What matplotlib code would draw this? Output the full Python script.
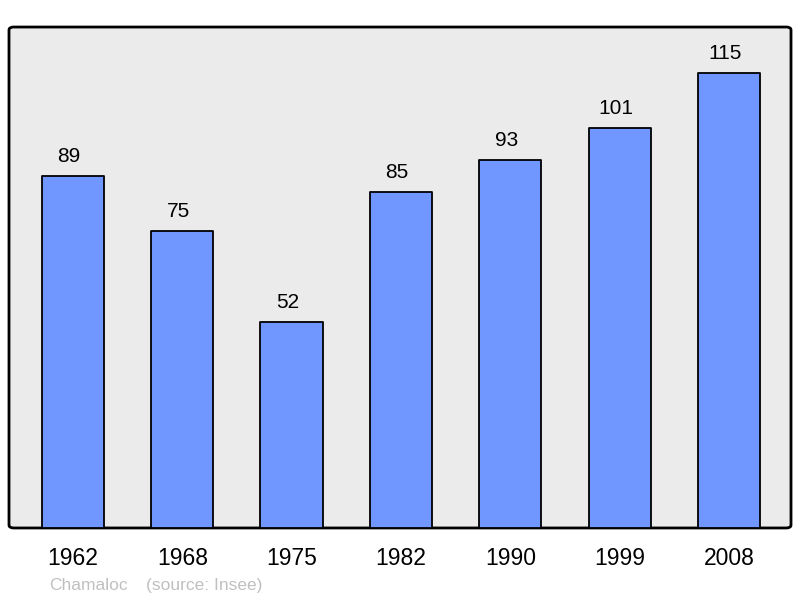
import matplotlib.pyplot as plt
from matplotlib.patches import FancyBboxPatch

years = ["1962", "1968", "1975", "1982", "1990", "1999", "2008"]
population = [89, 75, 52, 85, 93, 101, 115]
commune = "Chamaloc"
source = "(source: Insee)"

plt.rcParams["font.family"] = ["Liberation Sans", "DejaVu Sans"]

fig = plt.figure(figsize=(8, 5.98), dpi=100)
ax = fig.add_axes([0.01125, 0.1171, 0.9775, 0.8377])
ax.set_facecolor("none")
ax.set_xlim(-0.585, 6.567)
ax.set_ylim(0, 126.6)

# rounded grey frame
frame = FancyBboxPatch((0, 0), 1, 1, boxstyle="round,pad=0,rounding_size=0.006",
                       transform=ax.transAxes, facecolor="#ebebeb",
                       edgecolor="black", linewidth=2, zorder=0, clip_on=False)
ax.add_patch(frame)

x = list(range(len(years)))
bars = ax.bar(x, population, width=0.57, color="#7096ff", edgecolor="black",
              linewidth=1.3, zorder=2)
for b in bars:
    b.set_joinstyle("round")

for xi, v in zip(x, population):
    ax.annotate(str(v), (xi, v), xytext=(-3, 10), textcoords="offset points",
                ha="center", va="baseline", fontsize=15)

for s in ax.spines.values():
    s.set_visible(False)
ax.set_yticks([])
ax.set_xticks(x)
ax.set_xticklabels(years, fontsize=16.5)
ax.tick_params(axis="x", length=0, pad=14)

fig.text(49 / 800, 1 - 590 / 598, commune, fontsize=12.5, color="#c0c0c0",
         va="baseline")
fig.text(146 / 800, 1 - 590 / 598, source, fontsize=12.5, color="#c0c0c0",
         va="baseline")

fig.savefig("out.png", dpi=100)
